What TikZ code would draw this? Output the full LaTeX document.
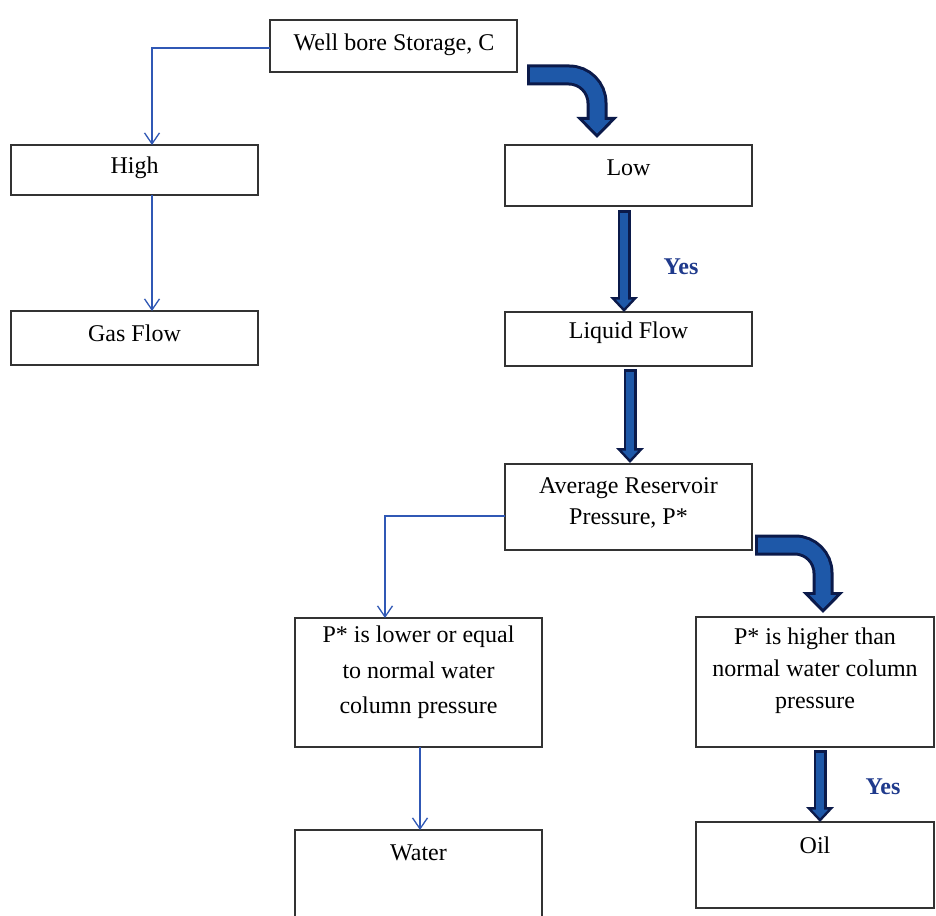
\documentclass[tikz,border=0pt]{standalone}
\usepackage{fontspec}
\setmainfont{Liberation Serif}
\usetikzlibrary{arrows.meta,calc}
\definecolor{navyc}{HTML}{0B1A4A}
\definecolor{fillc}{HTML}{1E58A8}
\definecolor{thinc}{HTML}{3058B5}
\definecolor{yesc}{HTML}{1F3A8C}
\definecolor{boxc}{HTML}{333333}
\begin{document}
\begin{tikzpicture}[x=1pt,y=-1pt,
  box/.style 2 args={draw=boxc, line width=1.4pt, minimum width=#1, minimum height=#2, inner sep=0pt, outer sep=0pt},
  txt/.style={font=\fontsize{24}{33}\selectfont, align=center, inner sep=0pt},
  yes/.style={font=\fontsize{24}{30}\selectfont\bfseries, text=yesc, inner sep=0pt},
  thinarrow/.style={draw=thinc, line width=1.3pt, -{Straight Barb[length=11pt,width=15pt,line width=1.3pt]}},
  bigout/.style={draw=navyc, line width=21pt, -{Triangle[length=21pt,width=40pt]}},
  bigin/.style={draw=fillc, line width=15pt, -{Triangle[length=13.5pt,width=25.5pt]}, shorten >=4.3pt, shorten <=3pt},
  smallout/.style={draw=navyc, line width=13pt, -{Triangle[length=15pt,width=27pt]}},
  smallin/.style={draw=fillc, line width=8pt, -{Triangle[length=8.8pt,width=15.8pt]}, shorten >=3.7pt, shorten <=2.5pt}
]
\clip (0,0) rectangle (936,915);
\fill[white] (0,0) rectangle (936,915);

% boxes
\node[box={247pt}{52pt}] (wb) at (393.5,46) {};
\node[box={247pt}{50pt}] (high) at (134.5,170) {};
\node[box={247pt}{54pt}] (gas) at (134.5,338) {};
\node[box={247pt}{61pt}] (low) at (628.5,175.5) {};
\node[box={247pt}{54pt}] (liq) at (628.5,339) {};
\node[box={247pt}{86pt}] (avg) at (628.5,507) {};
\node[box={247pt}{129pt}] (lower) at (418.5,682.5) {};
\node[box={238pt}{130pt}] (higher) at (815,682) {};
\node[box={247pt}{100pt}] (water) at (418.5,880) {};
\node[box={238pt}{86pt}] (oil) at (815,865) {};

% texts
\node[txt] (wbT) at (394,45) {Well bore Storage, C};
\node[txt] (highT) at (134.5,168) {High};
\node[txt] (gasT) at (134.5,333) {Gas Flow};
\node[txt] (lowT) at (628.5,168) {Low};
\node[txt] (liqT) at (628.5,333) {Liquid Flow};
\node[txt, font=\fontsize{24}{31}\selectfont] (avgT) at (628.5,502.5) {Average Reservoir\\Pressure, P*};
\node[txt, font=\fontsize{24}{35.5}\selectfont] (lowerT) at (418.5,672.5) {P* is lower or equal\\to normal water\\column pressure};
\node[txt, font=\fontsize{24}{32}\selectfont] (higherT) at (815,671) {P* is higher than\\normal water column\\pressure};
\node[txt] (waterT) at (418.5,853) {Water};
\node[txt] (oilT) at (815,845) {Oil};

\node[yes] (yes1) at (681,267) {Yes};
\node[yes] (yes2) at (883,787) {Yes};

% thin connectors
\draw[thinarrow] ([yshift=-2pt]wb.west) -| ([xshift=17.5pt]high.north);
\draw[thinarrow] ([xshift=17.5pt]high.south) -- ([xshift=17.5pt]gas.north);
\draw[thinarrow] ([yshift=-9pt]avg.west) -| ([xshift=-33.5pt]lower.north);
\draw[thinarrow] ([xshift=1.5pt]lower.south) -- ([xshift=1.5pt]water.north);

% thick bent connectors
\draw[bigout, rounded corners=28pt] ([xshift=10pt,yshift=-29pt]wb.east) -| ([xshift=-31.5pt,yshift=7pt]low.north);
\draw[bigin, rounded corners=28pt] ([xshift=10pt,yshift=-29pt]wb.east) -| ([xshift=-31.5pt,yshift=7pt]low.north);
\draw[bigout, rounded corners=28pt] ([xshift=3pt,yshift=-38pt]avg.east) -| ([xshift=8pt,yshift=4pt]higher.north);
\draw[bigin, rounded corners=28pt] ([xshift=3pt,yshift=-38pt]avg.east) -| ([xshift=8pt,yshift=4pt]higher.north);

% thick straight connectors
\draw[smallout] ([xshift=-4.5pt,yshift=-4pt]low.south) -- ([xshift=-4.5pt]liq.north);
\draw[smallin] ([xshift=-4.5pt,yshift=-4pt]low.south) -- ([xshift=-4.5pt]liq.north);
\draw[smallout] ([xshift=1.5pt,yshift=-3pt]liq.south) -- ([xshift=1.5pt,yshift=1pt]avg.north);
\draw[smallin] ([xshift=1.5pt,yshift=-3pt]liq.south) -- ([xshift=1.5pt,yshift=1pt]avg.north);
\draw[smallout] ([xshift=5pt,yshift=-3pt]higher.south) -- ([xshift=5pt]oil.north);
\draw[smallin] ([xshift=5pt,yshift=-3pt]higher.south) -- ([xshift=5pt]oil.north);
\end{tikzpicture}
\end{document}
